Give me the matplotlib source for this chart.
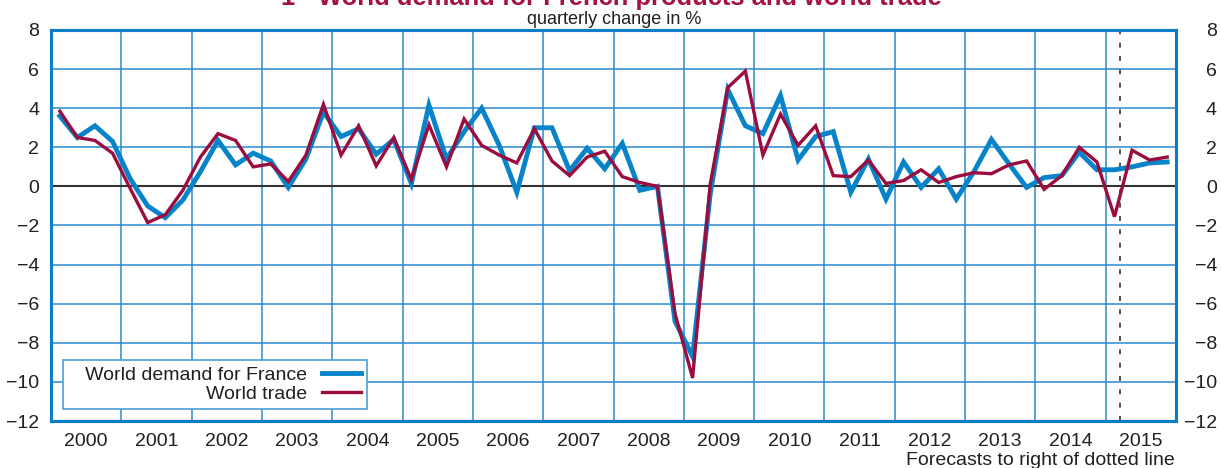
import matplotlib
matplotlib.use("Agg")
import matplotlib.pyplot as plt
import numpy as np

plt.rcParams['font.family'] = ['Liberation Sans', 'DejaVu Sans']

# quarterly change in %, 2000Q1 .. 2015Q4
world_demand = [
    3.6, 2.5, 3.1, 2.3,
    0.4, -1.0, -1.6, -0.7,
    0.75, 2.35, 1.1, 1.7,
    1.3, -0.05, 1.4, 3.8,
    2.55, 2.95, 1.65, 2.4,
    0.15, 4.15, 1.4, 2.8,
    4.0, 2.1, -0.3, 3.0,
    3.0, 0.8, 1.95, 0.9,
    2.2, -0.2, 0.0, -6.9,
    -8.7, -0.4, 4.95, 3.1,
    2.7, 4.65, 1.35, 2.55,
    2.8, -0.3, 1.4, -0.65,
    1.25, -0.05, 0.9, -0.65,
    0.75, 2.4, 1.15, -0.05,
    0.45, 0.55, 1.75, 0.85,
    0.85, 1.0, 1.2, 1.25,
]
world_trade = [
    3.85, 2.5, 2.35, 1.7,
    -0.1, -1.85, -1.45, -0.2,
    1.5, 2.7, 2.35, 1.0,
    1.15, 0.25, 1.6, 4.2,
    1.6, 3.1, 1.05, 2.5,
    0.35, 3.15, 1.0, 3.45,
    2.1, 1.6, 1.2, 2.95,
    1.3, 0.55, 1.5, 1.8,
    0.5, 0.2, 0.0, -6.5,
    -9.8, 0.1, 5.05, 5.9,
    1.6, 3.7, 2.1, 3.1,
    0.55, 0.5, 1.35, 0.15,
    0.3, 0.85, 0.2, 0.5,
    0.7, 0.65, 1.1, 1.3,
    -0.15, 0.55, 2.0, 1.25,
    -1.55, 1.85, 1.35, 1.5,
]
years = list(range(2000, 2016))
yticks = list(range(-12, 9, 2))
forecast_start = 2015.2

blue = '#0784c9'
red = '#9b0d3e'
grid_blue = '#2a8ad0'
text_col = '#231f20'

x = 2000 + (np.arange(len(world_demand)) + 0.5) / 4

fig = plt.figure(figsize=(12.21, 4.68), dpi=100)
ax = fig.add_axes([51/1221, 1 - 421/468, 1125/1221, 391/468])

ax.plot(x, world_demand, color=blue, lw=3.5, label='   World demand for France',
        solid_joinstyle='miter', zorder=4)
ax.plot(x, world_trade, color=red, lw=2.4, label='World trade',
        solid_joinstyle='miter', zorder=5)

ax.set_xlim(2000, 2016)
ax.set_ylim(-12, 8)

ax.axhline(0, color='#333333', lw=1.5, zorder=3)
ax.axvline(forecast_start, color='#333333', lw=1.2, ls=(0, (3, 5)), zorder=3)

ax.set_yticks(yticks)
ax.set_xticks(years[1:], minor=False)
ax.set_xticks([y + 0.5 for y in years], minor=True)
ax.set_xticklabels([], minor=False)
ax.set_xticklabels([str(y) for y in years], minor=True)
ax.grid(True, which='major', color=grid_blue, lw=1.1, zorder=1)

ax.tick_params(axis='x', which='both', length=0, pad=8.5, labelsize=14, labelcolor=text_col)
ax.tick_params(axis='y', length=0, pad=8.6, labelsize=14, labelcolor=text_col)

# right-hand labels, right aligned like the left ones
ax2 = ax.twinx()
ax2.set_ylim(-12, 8)
ax2.set_yticks(yticks)
ax2.tick_params(axis='y', length=0, pad=29.5, labelsize=14, labelcolor=text_col)
for lab in ax2.get_yticklabels():
    lab.set_horizontalalignment('right')

for a in (ax, ax2):
    for s in a.spines.values():
        s.set_color('#0a7dc6')
        s.set_linewidth(2.2)

leg = ax.legend(loc='lower left', bbox_to_anchor=(12/1125, 12/391), borderaxespad=0,
                markerfirst=False, fontsize=14, frameon=True, fancybox=False,
                edgecolor='#4a9fd6', framealpha=1, handlelength=2.0,
                handletextpad=0.77, labelspacing=0.1, borderpad=0.3)
leg.get_frame().set_linewidth(1.2)
leg.set_zorder(10)
for t in leg.get_texts():
    t.set_color(text_col)

fig.text(611/1221, 1 - 5/468, '1 - World demand for French products and world trade',
         ha='center', va='baseline', fontsize=18.4, fontweight='bold', color='#a4123f')
fig.text(614/1221, 1 - 24/468, 'quarterly change in %', ha='center', va='baseline',
         fontsize=13, color=text_col)
fig.text(1175/1221, 1 - 465/468, 'Forecasts to right of dotted line', ha='right',
         va='baseline', fontsize=14, color=text_col)

fig.savefig('out.png', dpi=100)
